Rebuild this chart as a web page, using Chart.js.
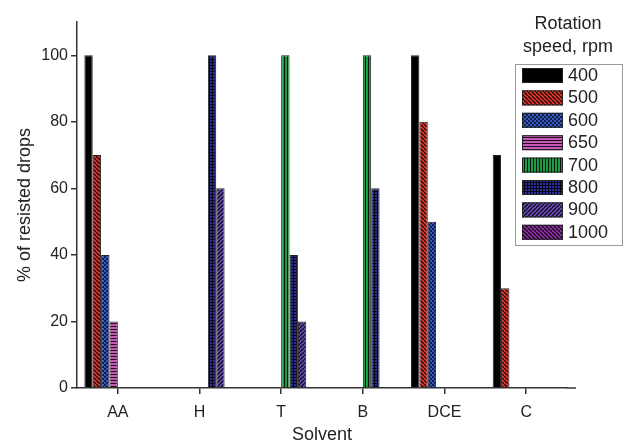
<html>
<head>
    <script src="https://cdn.jsdelivr.net/npm/chart.js"></script>
    <style>
        body { margin: 0; background: #fff; }
        #wrap { width: 630px; height: 442px; }
    </style>
</head>
<body>
    <div id="wrap">
        <canvas id="myChart" width="630" height="442"></canvas>
    </div>
    <script>
        // 데이터
        const solvents = ['AA', 'H', 'T', 'B', 'DCE', 'C'];
        const speeds = ['400', '500', '600', '650', '700', '800', '900', '1000'];
        const s400  = [100, null, null, null, 100, 70];
        const s500  = [70, null, null, null, 80, 30];
        const s600  = [40, null, null, null, 50, null];
        const s650  = [20, null, null, null, null, null];
        const s700  = [null, null, 100, 100, null, null];
        const s800  = [null, 100, 40, 60, null, null];
        const s900  = [null, 60, 20, null, null, null];
        const s1000 = [null, null, null, null, null, null];
        const yTicks = [0, 20, 40, 60, 80, 100];

        const FONT = 'Liberation Sans, Arial, sans-serif';

        // 패턴 만들기
        function makePattern(bg, size, draw) {
            const c = document.createElement('canvas');
            c.width = size; c.height = size;
            const g = c.getContext('2d');
            g.fillStyle = bg;
            g.fillRect(0, 0, size, size);
            g.strokeStyle = 'rgba(0,0,0,0.85)';
            g.fillStyle = 'rgba(0,0,0,0.85)';
            g.lineWidth = 1;
            if (draw) draw(g, size);
            return g.createPattern(c, 'repeat');
        }
        function diagDown(g, s) {   // "\"
            g.lineWidth = 1.3;
            for (let o = -s; o <= s; o += s) {
                g.beginPath(); g.moveTo(o, 0); g.lineTo(o + s, s); g.stroke();
            }
        }
        function diagUp(g, s) {     // "/"
            g.lineWidth = 1.3;
            for (let o = -s; o <= s; o += s) {
                g.beginPath(); g.moveTo(o, s); g.lineTo(o + s, 0); g.stroke();
            }
        }

        const fills = [
            '#000000',
            makePattern('#e8372c', 4, diagDown),
            makePattern('#3358c0', 4, (g) => { g.fillRect(0, 0, 2, 2); g.fillRect(2, 2, 2, 2); g.fillStyle = '#3358c0'; g.fillRect(0.5, 0.5, 1, 1); g.fillRect(2.5, 2.5, 1, 1); }),
            makePattern('#c656b8', 3, (g) => { g.fillRect(0, 2, 3, 1); }),
            makePattern('#1f9a44', 3, (g) => { g.fillRect(2, 0, 1, 3); }),
            makePattern('#2c2c9c', 3, (g) => { g.fillRect(2, 0, 1, 3); g.fillRect(0, 2, 3, 1); }),
            makePattern('#6a4cbc', 4, diagUp),
            makePattern('#9430a8', 4, diagDown)
        ];
        const seriesData = [s400, s500, s600, s650, s700, s800, s900, s1000];

        // 범례 그리기
        const legendBox = {
            id: 'legendBox',
            afterDraw(chart) {
                const ctx = chart.ctx;
                const a = chart.chartArea;
                ctx.save();
                // x축 연장
                ctx.strokeStyle = '#333';
                ctx.lineWidth = 1.5;
                ctx.beginPath(); ctx.moveTo(a.right, a.bottom); ctx.lineTo(576, a.bottom); ctx.stroke();

                ctx.fillStyle = '#222';
                ctx.font = '18px ' + FONT;
                ctx.textAlign = 'center';
                ctx.textBaseline = 'middle';
                ctx.fillText('Rotation', 568, 24);
                ctx.fillText('speed, rpm', 568, 47);

                ctx.strokeStyle = '#999';
                ctx.lineWidth = 1;
                ctx.strokeRect(515.5, 64.5, 107, 181);

                ctx.textAlign = 'left';
                chart.data.datasets.forEach((ds, i) => {
                    const y = 68 + i * 22.4;
                    ctx.fillStyle = ds.backgroundColor;
                    ctx.fillRect(522, y, 41, 15);
                    ctx.strokeStyle = '#222';
                    ctx.strokeRect(522.5, y + 0.5, 40, 14);
                    ctx.fillStyle = '#222';
                    ctx.fillText(ds.label, 568, y + 8);
                });
                ctx.restore();
            }
        };

        new Chart(document.getElementById('myChart'), {
            type: 'bar',
            data: {
                labels: solvents,
                datasets: speeds.map((sp, i) => ({
                    label: sp,
                    data: seriesData[i],
                    backgroundColor: fills[i],
                    borderColor: '#222',
                    borderWidth: 1,
                    categoryPercentage: 0.82,
                    barPercentage: 1
                }))
            },
            plugins: [legendBox],
            options: {
                responsive: false,
                animation: false,
                layout: { padding: { left: 14, right: 63, top: 22, bottom: 0 } },
                plugins: { legend: { display: false }, tooltip: { enabled: false } },
                scales: {
                    x: {
                        grid: { display: true, drawOnChartArea: false, offset: false, tickLength: 6, color: '#333', lineWidth: 1.5 },
                        border: { display: true, color: '#333', width: 1.5 },
                        ticks: { color: '#222', font: { family: FONT, size: 16 }, padding: 9 },
                        title: { display: true, text: 'Solvent', color: '#222', font: { family: FONT, size: 18 }, padding: { top: 6, bottom: -4 } },
                        afterFit(axis) { axis.height = 54; }
                    },
                    y: {
                        min: 0,
                        max: 110,
                        afterBuildTicks(axis) { axis.ticks = yTicks.map(v => ({ value: v })); },
                        grid: { display: true, drawOnChartArea: false, tickLength: 6, color: '#333', lineWidth: 1.5 },
                        border: { display: true, color: '#333', width: 1.5 },
                        ticks: { color: '#222', font: { family: FONT, size: 16 }, padding: 3 },
                        title: { display: true, text: '% of resisted drops', color: '#222', font: { family: FONT, size: 18 }, padding: { top: 0, bottom: 10 } },
                        afterFit(axis) { axis.width = 63; }
                    }
                }
            }
        });
    </script>
</body>
</html>
